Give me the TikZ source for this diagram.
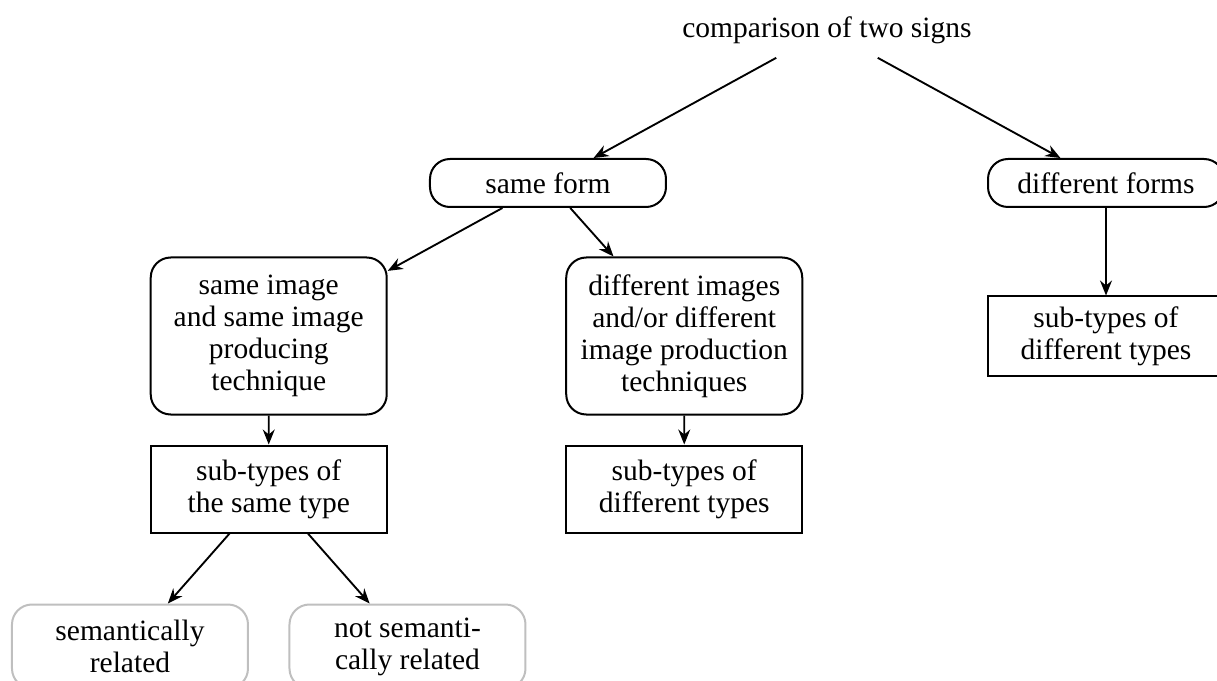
\documentclass[tikz,border=0pt]{standalone}
\usepackage{fontspec}
\setmainfont{Liberation Serif}
\usetikzlibrary{arrows.meta}

\begin{document}
\begin{tikzpicture}[font=\fontsize{11.8pt}{12.8pt}\selectfont,
  level distance=61.2pt,
  level 1/.style={sibling distance=223.2pt},
  level 2/.style={sibling distance=166.2pt},
  level 4/.style={sibling distance=111pt,level distance=63pt},
  edge from parent/.style={draw,line width=0.75pt,-{Stealth[length=6pt,width=4.8pt,inset=2pt]}},
  rnd/.style={draw,line width=0.8pt,rounded corners=8pt,align=center,minimum width=94.4pt},
  sq/.style={draw,line width=0.8pt,align=center,minimum width=94.4pt},
  soft/.style={rnd,draw=black!25}]
\useasboundingbox (-330.8pt,12pt) rectangle (156pt,-260.4pt);
\node [inner ysep=5.5pt] (z) {comparison of two signs}
  child {node [rnd,minimum height=19.2pt] (a) {same form}
    child [xshift=-28.6pt] {node [rnd,minimum height=62.8pt] (b) {same image\\and same image\\producing\\technique}
      child {node [sq,minimum height=34.8pt] (c) {sub-types of\\the same type}
        child {node [soft,minimum height=33.6pt] (d) {semantically\\related}}
        child {node [soft,minimum height=33.6pt] (e) {not semanti-\\cally related}}
      }
    }
    child [xshift=-28.6pt] {node [rnd,minimum height=62.8pt] (g) {different images\\and/or different\\image production\\techniques}
      child {node [sq,minimum height=34.8pt] (h) {sub-types of\\different types}}
    }
  }
  child {node [rnd,minimum height=19.2pt] (j) {different forms}
    child {node [sq,minimum height=31.6pt] (k) {sub-types of\\different types}}
  };
\end{tikzpicture}
\end{document}
